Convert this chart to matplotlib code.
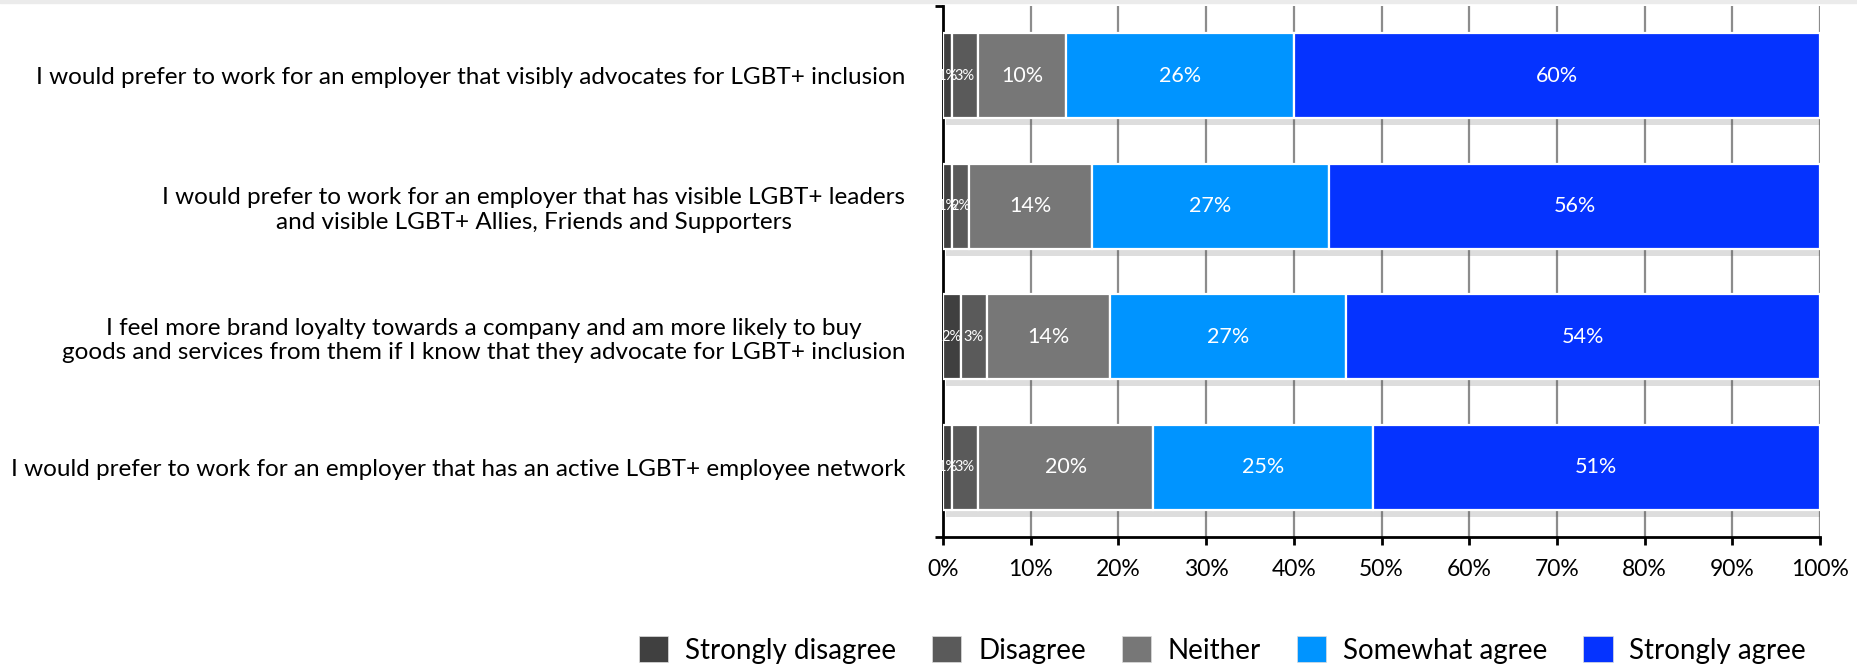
import matplotlib
matplotlib.use("Agg")
import matplotlib.pyplot as plt
import matplotlib.patheffects as pe
from matplotlib.patches import Patch, Rectangle
import numpy as np

plt.rcParams["font.family"] = ["Lato", "DejaVu Sans"]

# ── data ─────────────────────────────────────────────────────────────────
statements = [
    "I would prefer to work for an employer that visibly advocates for LGBT+ inclusion",
    "I would prefer to work for an employer that has visible LGBT+ leaders\nand visible LGBT+ Allies, Friends and Supporters",
    "I feel more brand loyalty towards a company and am more likely to buy\ngoods and services from them if I know that they advocate for LGBT+ inclusion",
    "I would prefer to work for an employer that has an active LGBT+ employee network",
]
responses = ["Strongly disagree", "Disagree", "Neither", "Somewhat agree", "Strongly agree"]
strongly_disagree = [1, 1, 2, 1]
disagree = [3, 2, 3, 3]
neither = [10, 14, 14, 20]
somewhat_agree = [26, 27, 27, 25]
strongly_agree = [60, 56, 54, 51]

colors = ["#404040", "#5a5a5a", "#777777", "#0094ff", "#0533ff"]
series = [strongly_disagree, disagree, neither, somewhat_agree, strongly_agree]

# ── figure ───────────────────────────────────────────────────────────────
fig = plt.figure(figsize=(18.58, 6.68), dpi=100)
fig.patches.append(Rectangle((0, 0.995), 1, 0.005, transform=fig.transFigure,
                             color="#ebebeb", zorder=0))
ax = fig.add_axes([943 / 1858, 131 / 668, 877 / 1858, 531 / 668])

ypos = np.arange(len(statements))
shadow = [pe.SimplePatchShadow(offset=(2, -5), shadow_rgbFace="#555555", alpha=0.2),
          pe.Normal()]

left = np.zeros(len(statements))
for vals, col in zip(series, colors):
    vals = np.array(vals, dtype=float)
    bars = ax.barh(ypos, vals, left=left, height=0.65, color=col,
                   edgecolor="white", linewidth=1.6, zorder=3)
    for b in bars:
        b.set_path_effects(shadow)
    for y, l, v in zip(ypos, left, vals):
        fs = 15.5 if v >= 5 else 10.5
        ax.text(l + v / 2, y, f"{int(v)}%", ha="center", va="center",
                color="white", fontsize=fs, zorder=5)
    left += vals

ax.set_xlim(0, 100)
ax.set_ylim(3.532, -0.532)
ax.set_xticks(np.arange(0, 101, 10))
ax.set_xticklabels([f"{t}%" for t in range(0, 101, 10)], fontsize=16.5)
ax.set_yticks(ypos)
ax.set_yticklabels(statements, fontsize=17.5)
for lbl in ax.get_yticklabels():
    lbl.set_multialignment("center")
ax.set_yticks([3.532, -0.532], minor=True)
ax.tick_params(axis="y", which="major", length=0, pad=27)
ax.tick_params(axis="y", which="minor", length=6, width=2, direction="out")
ax.tick_params(axis="x", length=6, width=2, direction="out", pad=10)

ax.grid(axis="x", color="#8c8c8c", linewidth=1.6, zorder=0)
ax.set_axisbelow(True)
for s in ["top", "right"]:
    ax.spines[s].set_visible(False)
for s in ["left", "bottom"]:
    ax.spines[s].set_linewidth(2)
    ax.spines[s].set_color("black")

handles = [Patch(facecolor=c, edgecolor="#dddddd", linewidth=0.5) for c in colors]
fig.legend(handles, responses, loc="center", bbox_to_anchor=(0.658, 0.027),
           ncol=5, frameon=False, fontsize=20, handlelength=1.05, handleheight=1.05,
           handletextpad=0.6, columnspacing=1.3)

fig.savefig("out.png", dpi=100)
